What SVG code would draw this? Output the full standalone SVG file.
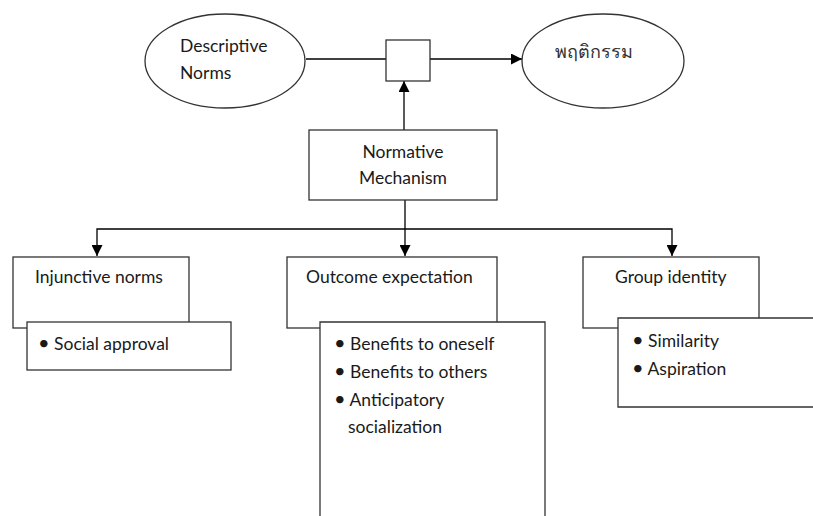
<svg xmlns="http://www.w3.org/2000/svg" width="813" height="516" viewBox="0 0 813 516">
<defs>
<marker id="arr" viewBox="0 0 10 10" refX="10" refY="5" markerWidth="11" markerHeight="11" markerUnits="userSpaceOnUse" orient="auto-start-reverse">
<path d="M0,0 L10,5 L0,10 z" fill="#000"/>
</marker>
<style>
.s{fill:#fff;stroke:#333;stroke-width:1.3}
.t{font-family:Lato,"Open Sans","Noto Sans CJK SC",sans-serif;font-size:17.5px;fill:#1a1a1a}
.b{font-size:20px}
.th{font-family:"Noto Sans","DejaVu Sans",sans-serif;font-size:18px;fill:#333}
.c{fill:none;stroke:#000;stroke-width:1.3}
</style>
</defs>
<rect width="813" height="516" fill="#fff"/>
<g id="connectors">
<line class="c" x1="306" y1="59" x2="386" y2="59"/>
<line class="c" x1="430" y1="59" x2="522" y2="59" marker-end="url(#arr)"/>
<line class="c" x1="404" y1="130" x2="404" y2="81" marker-end="url(#arr)"/>
<line class="c" x1="405" y1="200" x2="405" y2="256" marker-end="url(#arr)"/>
<polyline class="c" points="97,256 97,229 672,229 672,256" marker-start="url(#arr)" marker-end="url(#arr)"/>
</g>
<g id="descriptive-norms">
<ellipse class="s" cx="225" cy="61" rx="80" ry="47"/>
<text class="t" x="180" y="52">Descriptive</text>
<text class="t" x="180" y="79">Norms</text>
</g>
<g id="junction">
<rect class="s" x="386" y="40" width="44" height="41"/>
</g>
<g id="behavior">
<ellipse class="s" cx="603" cy="61" rx="81" ry="47"/>
<text class="th" x="555" y="58">พฤติกรรม</text>
</g>
<g id="normative-mechanism">
<rect class="s" x="309" y="130" width="188" height="70"/>
<text class="t" x="403" y="158" text-anchor="middle">Normative</text>
<text class="t" x="403" y="184" text-anchor="middle">Mechanism</text>
</g>
<g id="injunctive-norms">
<rect class="s" x="13" y="257" width="176" height="71"/>
<text class="t" x="35" y="283">Injunctive norms</text>
</g>
<g id="social-approval">
<rect class="s" x="27" y="322" width="204" height="48"/>
<text class="t" x="38" y="350"><tspan class="b">•</tspan> Social approval</text>
</g>
<g id="outcome-expectation">
<rect class="s" x="287" y="257" width="210" height="71"/>
<text class="t" x="306" y="283">Outcome expectation</text>
</g>
<g id="outcome-items">
<path class="s" d="M320,517 V322 H545 V517"/>
<text class="t" x="334" y="350"><tspan class="b">•</tspan> Benefits to oneself</text>
<text class="t" x="334" y="378"><tspan class="b">•</tspan> Benefits to others</text>
<text class="t" x="334" y="406"><tspan class="b">•</tspan> Anticipatory</text>
<text class="t" x="348" y="433">socialization</text>
</g>
<g id="group-identity">
<rect class="s" x="583" y="257" width="176" height="71"/>
<text class="t" x="615" y="283">Group identity</text>
</g>
<g id="group-items">
<path class="s" d="M814,318 H618 V407 H814"/>
<text class="t" x="632" y="347"><tspan class="b">•</tspan> Similarity</text>
<text class="t" x="632" y="375"><tspan class="b">•</tspan> Aspiration</text>
</g>
</svg>
